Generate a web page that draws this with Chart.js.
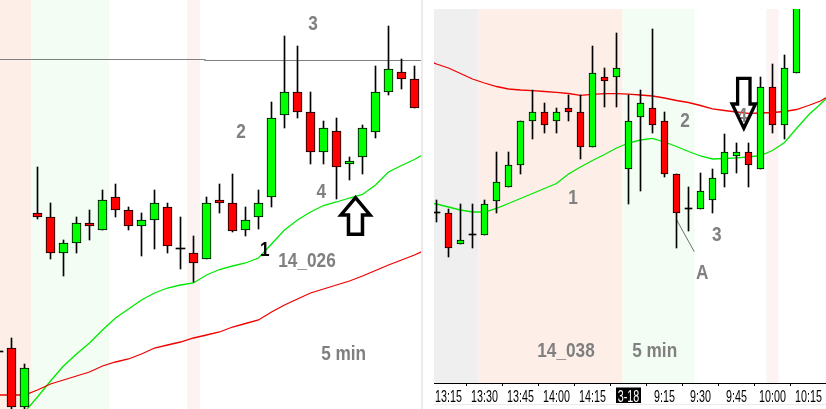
<!DOCTYPE html>
<html><head><meta charset="utf-8">
<script src="https://cdn.jsdelivr.net/npm/chart.js@4.4.1/dist/chart.umd.min.js"></script>
<style>
html,body{margin:0;padding:0;background:#fff;overflow:hidden;}
#wrap{position:relative;width:826px;height:409px;background:#fff;}
canvas{position:absolute;top:0;}
#cL{left:0;}
#cR{left:424px;}
#sep{position:absolute;left:421px;top:0;width:2px;height:409px;background:#ebebeb;}
#foot{position:absolute;left:434px;top:404px;width:392px;height:1px;background:#ebebeb;}
</style></head><body>
<div id="wrap">
<canvas id="cL" width="421" height="409"></canvas>
<div id="sep"></div>
<canvas id="cR" width="402" height="409"></canvas>
<div id="foot"></div>
</div>
<script>
const GREEN = '#00ff00', RED = '#ff0000', DOJI = '#000000';
const MA_GREEN = '#00e800', MA_RED = '#f00000';

// ---------- Left panel : 14_026, 5 min ----------
const leftOpen  = [57,61,2,196,192,156,166,186,179,212,199,183,189,202,160,156,150,209,206,179,192,212,294,317,297,257,278,245,252,277,317,337,330];
const leftHigh  = [60,71,45,242,206,169,192,199,219,225,202,196,219,206,192,173,212,225,235,202,219,307,373,363,317,288,291,252,284,343,383,350,343];
const leftLow   = [54,0,0,190,150,133,156,169,179,192,179,153,160,156,140,127,150,196,177,173,180,202,281,291,245,245,210,229,235,271,314,320,301];
const leftClose = [57,2,41,192,156,166,186,183,209,199,183,189,206,163,160,146,206,206,178,189,206,291,317,297,257,281,242,248,281,317,340,330,301];
const leftMaSlow = [14,14,14,19,25,29,33,37,43,47,50,55,61,64,67,71,74,77,82,85.5,89,97,104,110,116,120,124,128,133,138.5,144,149,154,160];
const leftMaFastStart = 2;
const leftMaFast = [-3,12,28,43,55,66,79,91,100,109,116,121,124,126,134,139.5,143,146,151,165,179,189,197,203.5,207,211,214.5,224,237,243.5,249.5,257];
const leftLevel = [349.5, 348.5];
const leftLevelStep = 15.88;

// ---------- Right panel : 14_038, 5 min ----------
const rightTimes = ['13:10','13:15','13:20','13:25','13:30','13:35','13:40','13:45','13:50','13:55','14:00','14:05','14:10','14:15','14:20','14:25',
  '9:00','9:05','9:10','9:15','9:20','9:25','9:30','9:35','9:40','9:45','9:50','9:55','10:00','10:05','10:10'];
const rightOpen  = [196,196,165,174,174,208,222,244,288,297,288,301,297,262,332,332,240,292,301,288,235,200,200,209,235,253,257,240,322,284,336];
const rightHigh  = [209,200,205,205,209,257,257,288,319,306,301,314,314,363,341,376,314,319,380,297,235,222,236,240,275,266,266,332,345,354,410];
const rightLow   = [187,152,165,161,174,196,222,235,270,276,276,288,250,262,302,302,205,218,276,232,161,178,200,196,222,236,222,240,276,270,336];
const rightClose = [196,161,169,174,205,227,244,288,297,284,297,297,262,336,328,341,288,306,284,235,196,200,218,231,257,257,244,322,284,341,404];
const rightMaStart = -1;
const rightMaSlow = [350,345,341,335.5,330,326,322.5,320,319,318.3,317.5,316.7,315.5,313.7,314.7,315.3,315.3,314.8,314,313,311,308.5,306.5,303.5,300.2,298.5,297,295.7,296,296.5,297.5,299.5,303.5,308,315];
const rightMaFast = [207,205,202,199,197,197,200.7,205.5,210.5,215.5,220.5,225.5,235,242,248.5,254.5,261,266,269,270.7,267,262.5,257.5,253,250,250.5,251.2,252,253.5,258.5,266.5,280.5,294,305,316];
const rightTickIdx = [1,4,7,10,13,16,19,22,25,28,31];
const rightTickLabels = ['13:15','13:30','13:45','14:00','14:15','3-18','9:15','9:30','9:45','10:00','10:15'];
const rightLeaderA = [[20.02,189],[21.48,157.3]];

// ---------- annotations (data coordinates) ----------
const leftNotes = [
  {x:24.19,y:386.5,t:'3'},{x:18.65,y:278.2,t:'2'},{x:24.83,y:218.5,t:'4'},
  {x:20.48,y:160.7,t:'1',c:'#000'},{x:23.73,y:149.5,t:'14_026'},{x:26.55,y:56.1,t:'5 min'}];
const rightNotes = [
  {x:11.375,y:212.7,t:'1'},{x:10.79,y:59.2,t:'14_038'},{x:20.71,y:289.5,t:'2'},
  {x:23.35,y:175.5,t:'3'},{x:22.15,y:137.3,t:'A'},{x:18.18,y:59.5,t:'5 min'},{x:25.48,y:295,t:'4'}];
const leftArrows  = [{x:27.46,y:211.3,dir:'up'}];
const rightArrows = [{x:25.61,y:280.8,dir:'down'}];
const leftBands  = [{from:-5,to:2.5,color:'#fdefe8'},{from:2.5,to:8.5,color:'#f3fdf3'},{from:14.5,to:15.5,color:'#fdf3f3'}];
const rightBands = [{from:-5,to:3.5,color:'#efefef'},{from:3.5,to:15.5,color:'#fdefe8'},{from:15.5,to:21.5,color:'#f3fdf3'},{from:27.5,to:28.5,color:'#fdf3f3'}];

const FONT = '"Liberation Sans", Arial, sans-serif';

const notesPlugin = {
  id: 'notes',
  beforeDraw(chart, args, o) {
    const {ctx, chartArea: a, scales: {x}} = chart;
    ctx.save();
    (o.bands || []).forEach(b => {
      const x0 = Math.max(a.left, x.getPixelForValue(b.from));
      const x1 = Math.min(a.right, x.getPixelForValue(b.to));
      if (x1 > x0) { ctx.fillStyle = b.color; ctx.fillRect(x0, a.top, x1 - x0, a.bottom - a.top); }
    });
    ctx.restore();
  },
  afterDatasetsDraw(chart, args, o) {
    const {ctx, scales: {x, y}} = chart;
    ctx.save();
    const size = 21, cap = size * 0.716;
    ctx.font = 'bold ' + size + 'px ' + FONT;
    ctx.textAlign = 'center';
    ctx.textBaseline = 'alphabetic';
    (o.texts || []).forEach(n => {
      ctx.fillStyle = n.c || '#808080';
      ctx.save();
      ctx.translate(x.getPixelForValue(n.x), y.getPixelForValue(n.y) + cap / 2);
      ctx.scale(0.82, 1);
      ctx.fillText(n.t, 0, 0);
      ctx.restore();
    });
    (o.arrows || []).forEach(ar => {
      const g = ar.dir === 'up' ? {hw:14.5, hh:17.3, sw:7, L:36.6, lw:3.5, s:1} : {hw:11.7, hh:24.2, sw:6.2, L:49.8, lw:3.3, s:-1};
      const px = x.getPixelForValue(ar.x), py = y.getPixelForValue(ar.y), s = g.s;
      ctx.beginPath();
      ctx.moveTo(px, py);
      ctx.lineTo(px + g.hw, py + s * g.hh);
      ctx.lineTo(px + g.sw, py + s * g.hh);
      ctx.lineTo(px + g.sw, py + s * g.L);
      ctx.lineTo(px - g.sw, py + s * g.L);
      ctx.lineTo(px - g.sw, py + s * g.hh);
      ctx.lineTo(px - g.hw, py + s * g.hh);
      ctx.closePath();
      ctx.lineJoin = 'miter';
      ctx.lineWidth = g.lw;
      ctx.strokeStyle = '#000';
      ctx.stroke();
    });
    ctx.restore();
  },
  afterDraw(chart, args, o) {
    if (!o.tickLabels) return;
    const {ctx, scales: {x}} = chart;
    ctx.save();
    ctx.font = '16px ' + FONT;
    ctx.textAlign = 'center';
    ctx.textBaseline = 'alphabetic';
    x.ticks.forEach(t => {
      const i = o.tickValues.indexOf(t.value);
      if (i < 0) return;
      const label = o.tickLabels[i];
      const px = x.getPixelForValue(t.value);
      if (label === o.highlight) {
        ctx.fillStyle = '#000';
        ctx.fillRect(px - 12.5, x.top + 4.5, 25, 15.5);
        ctx.fillStyle = '#fff';
      } else ctx.fillStyle = '#000';
      ctx.save();
      ctx.translate(px, x.top + 18.5);
      ctx.scale(0.67, 1);
      ctx.fillText(label, 0, 0);
      ctx.restore();
    });
    ctx.restore();
  }
};

function candleSets(O, H, L, C, bodyW) {
  const idx = O.map((_, i) => i);
  const colors = idx.map(i => C[i] > O[i] ? GREEN : (C[i] < O[i] ? RED : DOJI));
  return [
    {type:'bar', label:'wick', data: idx.map(i => ({x:i, y:[L[i], H[i]]})),
     backgroundColor:'#000', borderWidth:0, barThickness:1, grouped:false, order:2},
    {type:'bar', label:'body', data: idx.map(i => ({x:i, y: C[i] === O[i] ? [O[i], O[i] + 1] : [O[i], C[i]]})),
     backgroundColor: colors, borderColor:'#000', borderWidth: idx.map(i => C[i] === O[i] ? 0 : 1),
     borderSkipped:false, barThickness:bodyW, grouped:false, order:1}
  ];
}
function lineSet(values, start, color, order) {
  return {type:'line', data: values.map((v, i) => ({x: start + i, y: v})), borderColor: color,
          borderWidth: 1.3, pointRadius: 0, tension: 0, fill: false, order: order};
}

const common = {
  responsive: false, animation: false, devicePixelRatio: 1, events: [],
};

// Left chart
new Chart(document.getElementById('cL'), {
  type: 'bar',
  data: { datasets: [
    lineSet(leftMaSlow, 0, MA_RED, 4),
    lineSet(leftMaFast, leftMaFastStart, MA_GREEN, 4),
    {type:'line', data:[{x:-1,y:leftLevel[0]},{x:leftLevelStep,y:leftLevel[0]},{x:leftLevelStep,y:leftLevel[1]},{x:34,y:leftLevel[1]}],
     borderColor:'#808080', borderWidth:1, pointRadius:0, tension:0, fill:false, order:5},
    ...candleSets(leftOpen, leftHigh, leftLow, leftClose, 9)
  ]},
  options: Object.assign({}, common, {
    layout: {padding: 0},
    scales: {
      x: {type:'linear', display:false, offset:false, min: 1 - 11.5/13, max: 1 + (421 - 11.5)/13},
      y: {type:'linear', display:false, min: 0, max: 409, beginAtZero:false}
    },
    plugins: {legend:{display:false}, tooltip:{enabled:false},
      notes: {bands: leftBands, texts: leftNotes, arrows: leftArrows}}
  }),
  plugins: [notesPlugin]
});

// Right chart
new Chart(document.getElementById('cR'), {
  type: 'bar',
  data: { labels: rightTimes, datasets: [
    lineSet(rightMaSlow, rightMaStart, MA_RED, 4),
    lineSet(rightMaFast, rightMaStart, MA_GREEN, 4),
    {type:'line', data: rightLeaderA.map(p => ({x:p[0], y:p[1]})), borderColor:'#707070', borderWidth:1, pointRadius:0, order:5},
    ...candleSets(rightOpen, rightHigh, rightLow, rightClose, 7)
  ]},
  options: Object.assign({}, common, {
    layout: {padding: {left:10, top:9, right:0, bottom:0}},
    scales: {
      x: {type:'linear', offset:false, min: -2.5/12, max: (392 - 2.5)/12,
          afterBuildTicks: s => { s.ticks = rightTickIdx.map(v => ({value: v})); },
          afterFit: s => { s.height = 26; },
          ticks: {display:false},
          grid: {display:true, drawOnChartArea:false, drawTicks:true, tickLength:3, color:'#000', lineWidth:1},
          border: {display:true, color:'#000', width:1}},
      y: {type:'linear', display:false, min: 26, max: 400, beginAtZero:false}
    },
    plugins: {legend:{display:false}, tooltip:{enabled:false},
      notes: {bands: rightBands, texts: rightNotes, arrows: rightArrows,
              tickValues: rightTickIdx, tickLabels: rightTickLabels, highlight: '3-18'}}
  }),
  plugins: [notesPlugin]
});
</script></body></html>
